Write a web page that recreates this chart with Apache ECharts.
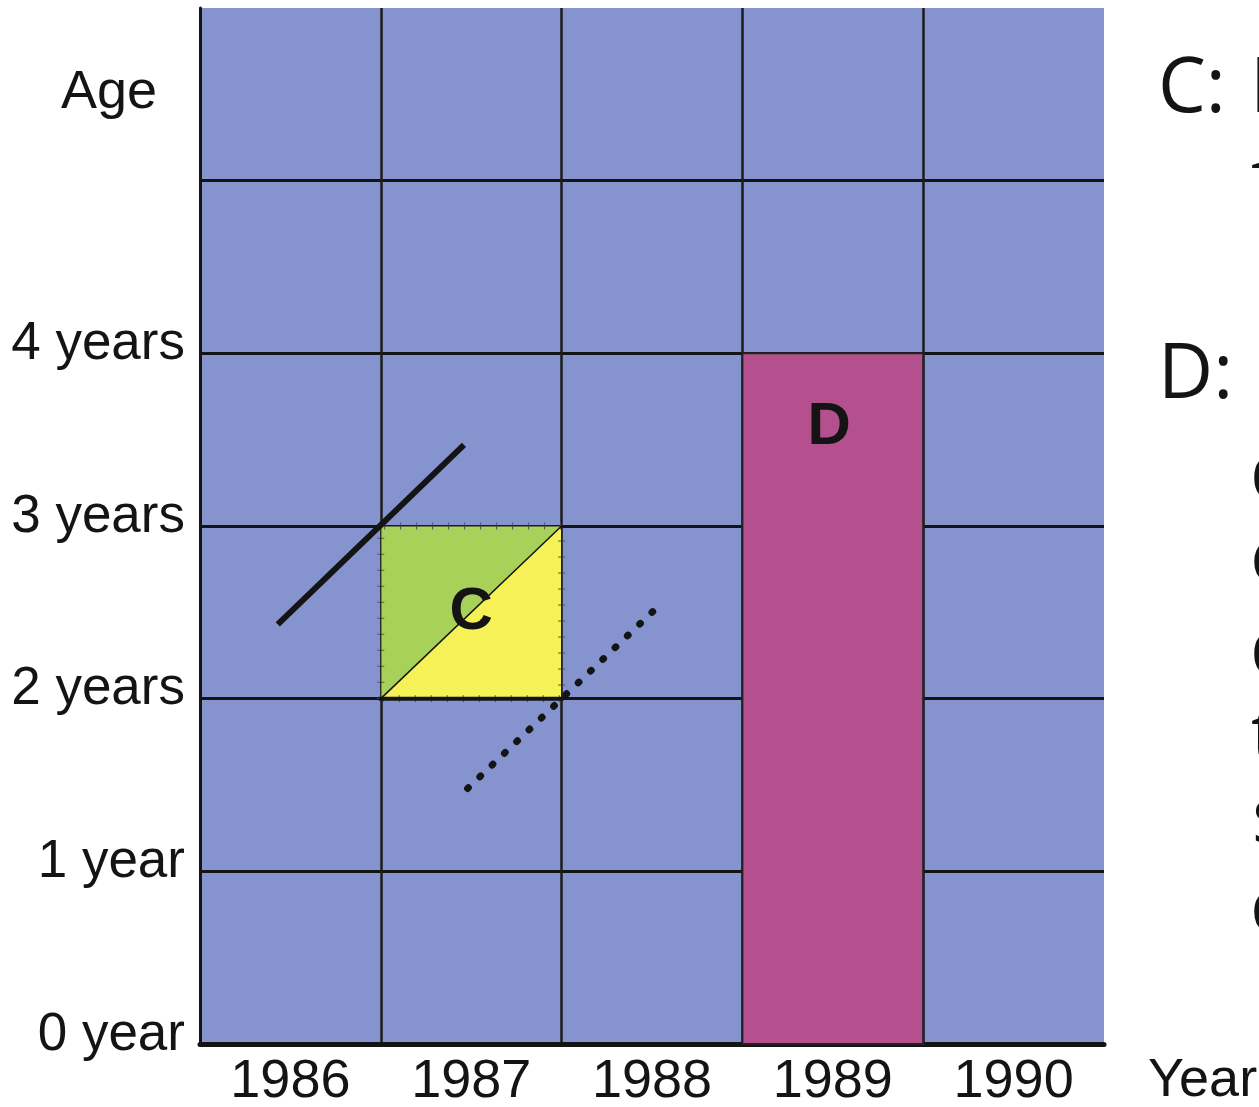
<!DOCTYPE html>
<html>
<head>
<meta charset="utf-8">
<title>Lexis diagram</title>
<script src="https://cdn.jsdelivr.net/npm/echarts@6/dist/echarts.min.js"></script>
<style>
  html, body { margin: 0; padding: 0; background: #fff; }
  #main { width: 1259px; height: 1107px; }
</style>
</head>
<body>
<div id="main"></div>
<script>
// axis categories / tick labels
var years = ['1986', '1987', '1988', '1989', '1990'];
var ageLabels = ['0 year', '1 year', '2 years', '3 years', '4 years', '', ''];

// blocks, in axis units: [yearFrom, yearTo, ageFrom, ageTo]
var blockC = [1, 2, 2, 3];
var blockD = [3, 4, 0, 4];

// letter positions (axis units)
var labelC = [1.5, 2.5];
var labelD = [3.48, 3.57];

// cohort lines (axis units)
var cohortSolid = [[0.43, 2.43], [1.46, 3.47]];
var cohortDotted = [[1.48, 1.48], [2.52, 2.52]];

var ink = '#141414';
var sans = "'Liberation Sans', Arial, sans-serif";
var note = '76px "Open Sans"';

var chart = echarts.init(document.getElementById('main'));

var option = {
  animation: false,
  title: {
    text: 'Age',
    left: 61,
    top: 66,
    padding: 0,
    textStyle: { fontFamily: sans, fontSize: 54, fontWeight: 'normal', color: ink }
  },
  grid: {
    left: 200, right: 155, top: 8, bottom: 63,
    outerBoundsMode: 'none',
    containLabel: false,
    show: true,
    backgroundColor: '#8594CF',
    borderWidth: 0
  },
  xAxis: [
    {
      type: 'category',
      data: years,
      boundaryGap: true,
      axisLine: { show: true, lineStyle: { color: ink, width: 5 } },
      axisTick: { show: false },
      axisLabel: { fontFamily: sans, fontSize: 54, color: ink, margin: 11 },
      splitLine: { show: true, showMinLine: false, showMaxLine: false, lineStyle: { color: '#1c1c1c', width: 2.5 } }
    },
    { type: 'value', min: 0, max: 5, show: false }
  ],
  yAxis: {
    type: 'value',
    min: 0, max: 6, interval: 1,
    axisLine: { show: true, lineStyle: { color: ink, width: 3 } },
    axisTick: { show: false },
    axisLabel: {
      formatter: function (v) { return ageLabels[v] || ''; },
      fontFamily: sans, fontSize: 53, color: ink, margin: 15,
      verticalAlign: 'bottom', lineHeight: 18
    },
    splitLine: { show: true, showMinLine: false, showMaxLine: false, lineStyle: { color: ink, width: 3 } }
  },
  graphic: [
    { type: 'text', x: 1148, y: 1081, style: { text: 'Year', font: '54px "Liberation Sans"', fill: ink, verticalAlign: 'middle' } },
    { type: 'text', x: 1158, y: 90, style: { text: 'C:', font: note, fill: ink, verticalAlign: 'middle' } },
    { type: 'text', x: 1250, y: 90, style: { text: 'Individuals', font: note, fill: ink, verticalAlign: 'middle' } },
    { type: 'text', x: 1251, y: 182, style: { text: 'followed', font: note, fill: ink, verticalAlign: 'middle' } },
    { type: 'text', x: 1158, y: 376, style: { text: 'D:', font: note, fill: ink, verticalAlign: 'middle' } },
    { type: 'text', x: 1250, y: 476, style: { text: 'describes', font: note, fill: ink, verticalAlign: 'middle' } },
    { type: 'text', x: 1250, y: 560, style: { text: 'events', font: note, fill: ink, verticalAlign: 'middle' } },
    { type: 'text', x: 1250, y: 652, style: { text: 'during', font: note, fill: ink, verticalAlign: 'middle' } },
    { type: 'text', x: 1251, y: 738, style: { text: 'the', font: note, fill: ink, verticalAlign: 'middle' } },
    { type: 'text', x: 1252, y: 820, style: { text: 'same', font: note, fill: ink, verticalAlign: 'middle' } },
    { type: 'text', x: 1250, y: 910, style: { text: 'calendar year', font: note, fill: ink, verticalAlign: 'middle' } }
  ],
  series: [
    {
      name: 'D',
      type: 'custom',
      xAxisIndex: 1,
      data: [blockD],
      z: 2,
      renderItem: function (params, api) {
        var a = api.coord([api.value(0), api.value(3)]);
        var b = api.coord([api.value(1), api.value(2)]);
        return {
          type: 'rect',
          shape: { x: a[0], y: a[1], width: b[0] - a[0], height: b[1] - a[1] },
          style: { fill: '#B4508E', stroke: '#222', lineWidth: 2 }
        };
      }
    },
    {
      name: 'C',
      type: 'custom',
      xAxisIndex: 1,
      data: [blockC],
      z: 3,
      renderItem: function (params, api) {
        var x0 = api.value(0), x1 = api.value(1), y0 = api.value(2), y1 = api.value(3);
        var bl = api.coord([x0, y0]), tl = api.coord([x0, y1]);
        var tr = api.coord([x1, y1]), br = api.coord([x1, y0]);
        return {
          type: 'group',
          children: [
            { type: 'polygon', shape: { points: [bl, tl, tr] }, style: { fill: '#A8D15A' } },
            { type: 'polygon', shape: { points: [bl, br, tr] }, style: { fill: '#F6F157' } },
            { type: 'polygon', shape: { points: [bl, tl, tr, br] }, style: { fill: 'none', stroke: '#555', lineWidth: 7, lineDash: [1, 15] } },
            { type: 'polygon', shape: { points: [bl, tl, tr, br] }, style: { fill: 'none', stroke: '#222', lineWidth: 1.2 } },
            { type: 'line', shape: { x1: bl[0], y1: bl[1], x2: tr[0], y2: tr[1] }, style: { stroke: ink, lineWidth: 1.5 } },
            { type: 'line', shape: { x1: bl[0] - 2, y1: bl[1], x2: br[0] + 2, y2: br[1] }, style: { stroke: ink, lineWidth: 4 } }
          ]
        };
      }
    },
    {
      name: 'cohort',
      type: 'line',
      xAxisIndex: 1,
      data: cohortSolid,
      showSymbol: false,
      z: 4,
      lineStyle: { color: ink, width: 6 }
    },
    {
      name: 'cohort next',
      type: 'line',
      xAxisIndex: 1,
      data: cohortDotted,
      showSymbol: false,
      z: 4,
      lineStyle: { color: ink, width: 7, type: [1, 16], cap: 'round' }
    },
    {
      name: 'letters',
      type: 'scatter',
      xAxisIndex: 1,
      symbolSize: 0,
      z: 5,
      itemStyle: { opacity: 1 },
      data: [
        { name: 'C', value: labelC },
        { name: 'D', value: labelD }
      ],
      label: {
        show: true,
        position: 'inside',
        formatter: '{b}',
        fontFamily: sans,
        fontWeight: 'bold',
        fontSize: 60,
        color: ink
      }
    }
  ]
};

chart.setOption(option);
</script>
</body>
</html>
